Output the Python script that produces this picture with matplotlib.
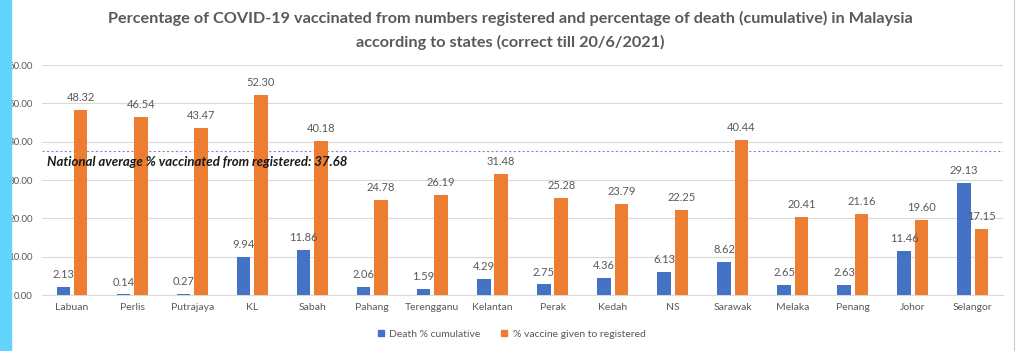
import matplotlib
matplotlib.use("Agg")
import matplotlib.pyplot as plt
import numpy as np
from matplotlib.patches import Rectangle
from matplotlib.lines import Line2D

states = ["Labuan", "Perlis", "Putrajaya", "KL", "Sabah", "Pahang", "Terengganu",
          "Kelantan", "Perak", "Kedah", "NS", "Sarawak", "Melaka", "Penang",
          "Johor", "Selangor"]
death_pct = [2.13, 0.14, 0.27, 9.94, 11.86, 2.06, 1.59, 4.29, 2.75, 4.36, 6.13,
             8.62, 2.65, 2.63, 11.46, 29.13]
vaccine_pct = [48.32, 46.54, 43.47, 52.30, 40.18, 24.78, 26.19, 31.48, 25.28,
               23.79, 22.25, 40.44, 20.41, 21.16, 19.60, 17.15]
national_avg = 37.68
yticks = [0, 10, 20, 30, 40, 50, 60]

plt.rcParams['font.family'] = ['Lato', 'DejaVu Sans']
gray = '#595959'
blue = '#4472C4'
orange = '#ED7D31'

fig = plt.figure(figsize=(10.17, 3.51), dpi=100)
ax = fig.add_axes([0.0413, 0.1595, 0.9449, 0.6553])

x = np.arange(len(states))
w = 0.225
off = 0.145
b1 = ax.bar(x - off, death_pct, w, color=blue, zorder=3)
b2 = ax.bar(x + off, vaccine_pct, w, color=orange, zorder=3)

for rects, vals in ((b1, death_pct), (b2, vaccine_pct)):
    for r, v in zip(rects, vals):
        ax.annotate(f"{v:.2f}", (r.get_x() + r.get_width() / 2, v),
                    xytext=(0, 5), textcoords='offset points',
                    ha='center', va='bottom', fontsize=8, color=gray, zorder=4)

ax.set_xlim(-0.5, len(states) - 0.5)
ax.set_ylim(0, 60)
ax.set_yticks(yticks)
ax.set_yticklabels([f"{t:.2f}" for t in yticks])
ax.set_xticks(x)
ax.set_xticklabels(states)
ax.tick_params(axis='both', length=0, colors=gray)
ax.tick_params(axis='x', pad=6, labelsize=7.5)
ax.tick_params(axis='y', pad=6.5, labelsize=7)
ax.grid(axis='y', color='#d9d9d9', lw=0.8, zorder=0)
for s in ['top', 'right', 'left']:
    ax.spines[s].set_visible(False)
ax.spines['bottom'].set_color('#d9d9d9')

ax.axhline(national_avg, color='#a07cc8', lw=0.8, ls=(0, (2, 2)), zorder=2)
ax.text(-0.42, 34.6, f"National average % vaccinated from registered: {national_avg:.2f}",
        fontsize=9.5, fontweight='bold', fontstyle='italic', color='#1a1a1a',
        va='center', ha='left', zorder=5)

fig.text(0.502, 0.948, "Percentage of COVID-19 vaccinated from numbers registered and percentage of death (cumulative) in Malaysia",
         ha='center', va='center', fontsize=11.7, fontweight='bold', color=gray)
fig.text(0.502, 0.880, "according to states (correct till 20/6/2021)",
         ha='center', va='center', fontsize=11.7, fontweight='bold', color=gray)

handles = [Rectangle((0, 0), 1, 1, color=blue), Rectangle((0, 0), 1, 1, color=orange)]
fig.legend(handles, ["Death % cumulative", "% vaccine given to registered"],
           loc='center', bbox_to_anchor=(0.503, 0.048), ncol=2, frameon=False,
           fontsize=7.5, handlelength=0.6, handleheight=0.6, handletextpad=0.5,
           columnspacing=2.0, labelcolor=gray)

fig.patches.append(Rectangle((0, 0), 11 / 1017, 1, transform=fig.transFigure,
                             color='#62D3FB', zorder=10))
fig.lines.append(Line2D([1014 / 1017, 1014 / 1017], [0, 1], transform=fig.transFigure,
                        color='#cccccc', lw=0.8))

fig.savefig("out.png", dpi=100)
